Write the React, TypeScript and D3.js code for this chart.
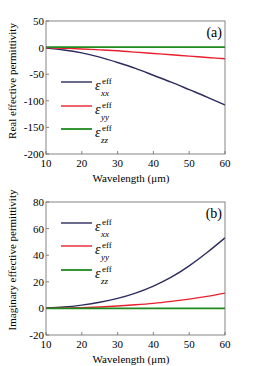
import React from "react";
import * as d3 from "d3";

const wavelength = [10, 15, 20, 25, 30, 35, 40, 45, 50, 55, 60];

// real part
const realXX = [-1, -4.5, -10, -18, -28, -39, -52, -65, -79, -93, -108];
const realYY = [0, -1.2, -2.5, -4.2, -6, -8.5, -11, -13.5, -16, -18.5, -21];
const realZZ = [1, 1, 1, 1, 1, 1, 1, 1, 1, 1, 1];

// imaginary part
const imagXX = [0.3, 1, 2.5, 4.6, 7.5, 11.5, 16.8, 23.5, 32, 42, 53];
const imagYY = [0, 0.3, 0.6, 1.1, 1.8, 2.7, 3.8, 5.3, 7, 9, 11.5];
const imagZZ = [0, 0, 0, 0, 0, 0, 0, 0, 0, 0, 0];

const xTicks = [10, 20, 30, 40, 50, 60];
const realTicks = [50, 0, -50, -100, -150, -200];
const imagTicks = [80, 60, 40, 20, 0, -20];
const subs = ["xx", "yy", "zz"];

const colors = ["#2c2c5e", "#e8202e", "#1e8a1e"];
const widths = [1.4, 1.4, 1.8];
const font = "'Liberation Serif', 'Times New Roman', serif";

type PanelProps = {
  top: number;
  domain: [number, number];
  yTicks: number[];
  series: number[][];
  title: string;
  titleY: number;
  tag: string;
  legendY: number[];
};

function Panel({ top, domain, yTicks, series, title, titleY, tag, legendY }: PanelProps) {
  const left = 46, right = 225, h = 133;
  const x = d3.scaleLinear().domain([10, 60]).range([left, right]);
  const y = d3.scaleLinear().domain(domain).range([top + h, top]);
  const line = d3
    .line<number>()
    .x((_, i) => x(wavelength[i]))
    .y((d) => y(d))
    .curve(d3.curveNatural);

  return (
    <g fontFamily={font}>
      {series.map((s, i) => (
        <path key={i} d={line(s) || ""} fill="none" stroke={colors[i]} strokeWidth={widths[i]} />
      ))}
      <rect x={left} y={top} width={right - left} height={h} fill="none" stroke="#666" strokeWidth={0.8} />
      {xTicks.map((t) => (
        <g key={t}>
          <line x1={x(t)} x2={x(t)} y1={top + h} y2={top + h - 3} stroke="#666" strokeWidth={0.8} />
          <text x={x(t)} y={top + h + 13} textAnchor="middle" fontSize={11}>{t}</text>
        </g>
      ))}
      {yTicks.map((t) => (
        <g key={t}>
          <line x1={left} x2={left + 3} y1={y(t)} y2={y(t)} stroke="#666" strokeWidth={0.8} />
          <text x={left - 2} y={y(t) + 4} textAnchor="end" fontSize={11}>{t}</text>
        </g>
      ))}
      <text x={131} y={top + h + 28} textAnchor="middle" fontSize={11}>Wavelength (μm)</text>
      <text
        transform={`translate(16,${titleY}) rotate(-90)`}
        textAnchor="middle"
        fontSize={11}
      >
        {title}
      </text>
      <text x={222} y={top + 16} textAnchor="end" fontSize={14}>{tag}</text>
      {legendY.map((ly, i) => (
        <g key={i}>
          <line x1={61} x2={92} y1={ly} y2={ly} stroke={colors[i]} strokeWidth={widths[i]} />
          <text x={95} y={ly + 8} fontSize={14} fontStyle="italic">ε</text>
          <text x={102} y={ly + 2} fontSize={9}>eff</text>
          <text x={101} y={ly + 14} fontSize={9} fontStyle="italic">{subs[i]}</text>
        </g>
      ))}
    </g>
  );
}

export default function App() {
  return (
    <svg width={262} height={366} style={{ position: "absolute", left: 0, top: 0, background: "#fff" }}>
      <Panel
        top={21}
        domain={[-200, 50]}
        yTicks={realTicks}
        series={[realXX, realYY, realZZ]}
        title="Real effective permittivity"
        titleY={81}
        tag="(a)"
        legendY={[82, 106, 129]}
      />
      <Panel
        top={202}
        domain={[-20, 80]}
        yTicks={imagTicks}
        series={[imagXX, imagYY, imagZZ]}
        title="Imaginary effective permittivity"
        titleY={260}
        tag="(b)"
        legendY={[223, 246, 270]}
      />
    </svg>
  );
}
